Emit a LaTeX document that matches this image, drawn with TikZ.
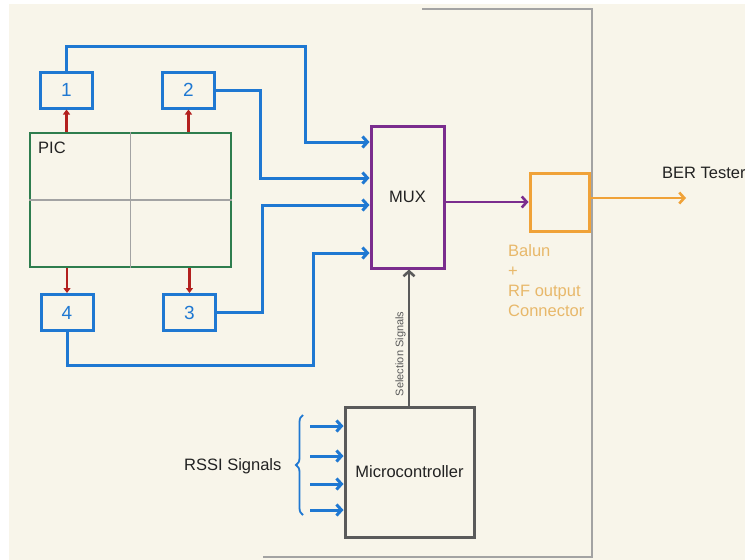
\documentclass[tikz,border=0pt]{standalone}
\usepackage{fontspec}
\setmainfont{Liberation Sans}
\usepackage{tikz}
\usetikzlibrary{arrows.meta,decorations.pathreplacing}
\definecolor{cream}{HTML}{F8F5EA}
\definecolor{sigblue}{HTML}{1F78D2}
\definecolor{tapred}{HTML}{B3201E}
\definecolor{picgreen}{HTML}{2E7D4E}
\definecolor{muxpurple}{HTML}{7B2D8E}
\definecolor{balorange}{HTML}{F0A238}
\definecolor{balnote}{HTML}{E8B86A}
\definecolor{ctrlgray}{HTML}{5A5A5A}
\definecolor{framegray}{HTML}{A3A3A3}
\definecolor{ink}{HTML}{222222}

\begin{document}
\begin{tikzpicture}[x=1pt,y=-1pt,font=\fontsize{16.5}{20}\selectfont,text=ink,
  port/.style={draw=sigblue,line width=3pt,minimum width=52pt,minimum height=36pt,inner sep=0pt,
    text=sigblue,font=\fontsize{19}{20}\selectfont},
  bus/.style={sigblue,line width=3pt},
  tip/.style={-{Straight Barb[length=5pt,width=11pt]}},
  tap/.style={tapred,line width=2.6pt,-{Triangle[length=5pt,width=7pt]}},
  frame/.style={framegray,line width=2pt}]
  \useasboundingbox (0,0) rectangle (745,560);
  \fill[white] (0,0) rectangle (745,560);
  \fill[cream] (9,4) rectangle (745,560);
  % board outline
  \draw[frame] (422,9) -- (592,9) -- (592,557) -- (263,557);

  % photonic chip and its four ports
  \node[draw=picgreen,line width=2.2pt,minimum width=201pt,minimum height=134pt,inner sep=0pt] (pic) at (130.5,200) {};
  \draw[framegray,line width=1.8pt] (pic.north) -- (pic.south) (pic.west) -- (pic.east);
  \node[anchor=base west,inner sep=0pt] (piclabel) at (38,153) {PIC};
  \node[port] (p1) at (66.5,90) {1};
  \node[port] (p2) at (188.5,90) {2};
  \node[port] (p4) at (67,312.5) {4};
  \node[port] (p3) at (189.5,312.5) {3};
  \draw[tap] (pic.north -| p1) -- (p1.south);
  \draw[tap] (pic.north -| p2) -- (p2.south);
  \draw[tap] (pic.south -| p4) -- (p4.north);
  \draw[tap] (pic.south -| p3) -- (p3.north);

  % multiplexer
  \node[draw=muxpurple,line width=3pt,minimum width=73pt,minimum height=142pt,inner sep=0pt] (mux) at (407.5,197) {MUX};
  \draw[bus,tip] (p1.north) |- (305,46) |- (mux.west |- 0,142);
  \draw[bus,tip] (p2.east) -| (260,178) -- (mux.west |- 0,178);
  \draw[bus,tip] (p3.east) -| (262,205) -- (mux.west |- 0,205);
  \draw[bus,tip] (p4.south) |- (313,365) |- (mux.west |- 0,253);

  % balun and RF output
  \node[draw=balorange,line width=3pt,minimum width=59pt,minimum height=58pt,inner sep=0pt] (balun) at (559.5,202) {};
  \draw[muxpurple,line width=2.6pt,tip] (mux.east |- balun.west) -- (balun.west);
  \node[anchor=north west,align=left,text=balnote,inner sep=0pt] (balunnote) at (508,244) {Balun\\+\\RF output\\Connector};
  \coordinate (ber) at (686,198);
  \draw[balorange,line width=2.6pt,tip] (balun.east |- ber) -- (ber);
  \node[anchor=base west,inner sep=0pt] (berlabel) at (662,178) {BER Tester};

  % microcontroller
  \node[draw=ctrlgray,line width=3pt,minimum width=129pt,minimum height=130pt,inner sep=0pt] (micro) at (409.5,472) {Microcontroller};
  \draw[ctrlgray,line width=2.6pt,tip] (micro.north -| 409,0) -- (mux.south -| 409,0)
    node[pos=0.38,sloped,above,font=\fontsize{11}{12}\selectfont,inner sep=2pt] {Selection Signals};
  \foreach \y [count=\i] in {426,456,484,510} {
    \coordinate (rssi\i) at (310,\y);
    \draw[bus,tip] (rssi\i) -- (micro.west |- rssi\i);
  }
  \draw[sigblue,line width=1.8pt,decorate,decoration={brace,amplitude=7pt}] (303,515) -- (303,415);
  \node[anchor=base west,inner sep=0pt] (rssilabel) at (184,470) {RSSI Signals};
\end{tikzpicture}
\end{document}
